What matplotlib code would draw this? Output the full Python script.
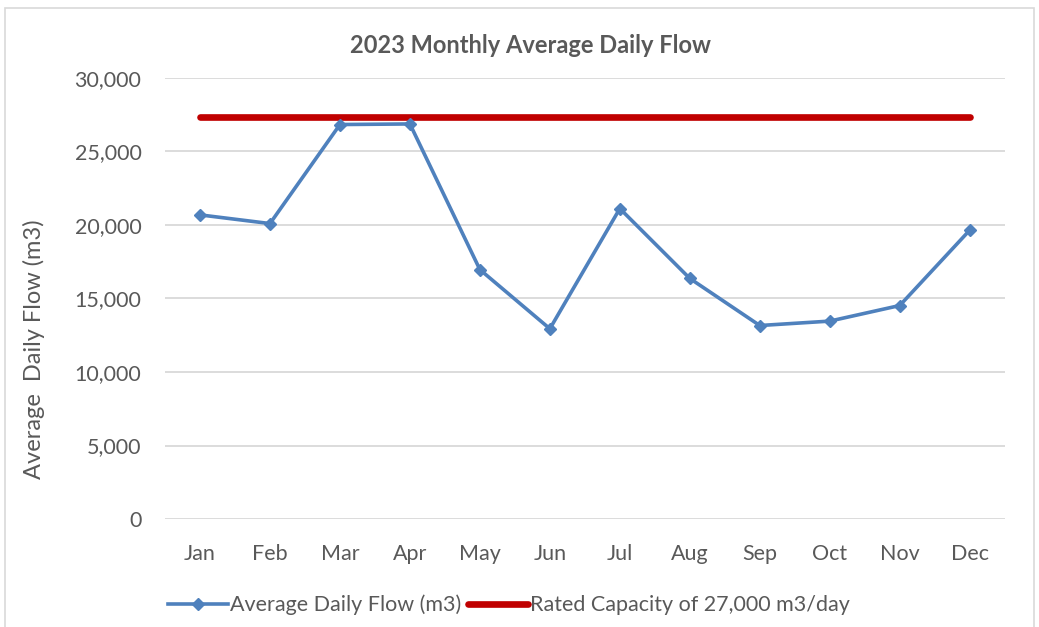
import matplotlib.pyplot as plt
from matplotlib.patches import Rectangle
from matplotlib.ticker import FuncFormatter

months = ["Jan", "Feb", "Mar", "Apr", "May", "Jun",
          "Jul", "Aug", "Sep", "Oct", "Nov", "Dec"]
avg_flow = [20680, 20090, 26820, 26860, 16960, 12940,
            21110, 16360, 13160, 13460, 14520, 19640]
rated_capacity = [27300] * 12

plt.rcParams["font.family"] = ["Lato", "DejaVu Sans"]

fig = plt.figure(figsize=(10.39, 6.27), dpi=100)
ax = fig.add_axes([0.1588, 0.172, 0.8082, 0.704])

# outer chart border
fig.patches.append(Rectangle((0.005, -0.01), 0.99, 0.998, transform=fig.transFigure,
                             fill=False, edgecolor="#D9D9D9", linewidth=1.2))

x = list(range(len(months)))
ax.plot(x, avg_flow, color="#4F81BD", linewidth=2.6, marker="D", markersize=6,
        label="Average Daily Flow (m3)", zorder=3)
ax.plot(x, rated_capacity, color="#C00000", linewidth=4.8, solid_capstyle="round",
        label="Rated Capacity of 27,000 m3/day", zorder=2)

ax.set_xlim(-0.5, 11.5)
ax.set_ylim(0, 30000)
ax.set_yticks(range(0, 30001, 5000))
ax.yaxis.set_major_formatter(FuncFormatter(lambda v, p: f"{int(v):,}"))
ax.set_xticks(x)
ax.set_xticklabels(months)
ax.grid(axis="y", color="#D9D9D9", linewidth=1.3)
ax.set_axisbelow(True)
for s in ax.spines.values():
    s.set_visible(False)
ax.tick_params(length=0, labelsize=15.5, colors="#595959")
ax.tick_params(axis="y", pad=17)
ax.tick_params(axis="x", pad=18)

ax.set_title("2023 Monthly Average Daily Flow", fontsize=17, fontweight="bold",
             color="#595959", x=0.435, pad=18)
ax.set_ylabel("Average  Daily Flow (m3)", fontsize=17, color="#595959")
ax.yaxis.set_label_coords(-0.143, 0.385)

leg = fig.legend(loc="center", bbox_to_anchor=(0.49, 0.035), ncol=2, frameon=False,
                 fontsize=15.5, handlelength=2.8, handletextpad=0.1, columnspacing=0.3,
                 labelcolor="#595959")

fig.savefig("out.png", dpi=100)
